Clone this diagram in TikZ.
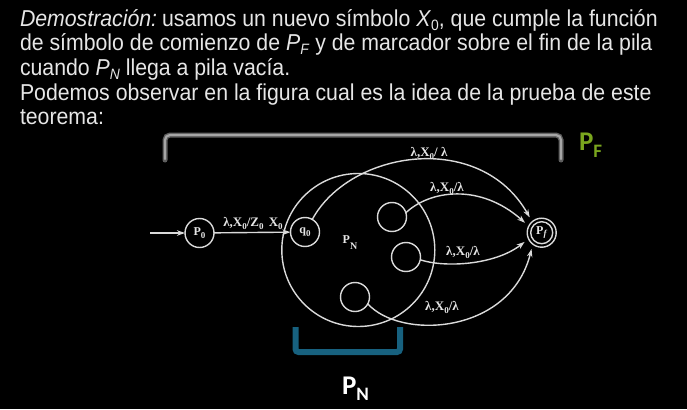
\documentclass[tikz,border=0pt]{standalone}
\usepackage{fontspec}
\setmainfont{Liberation Sans}[FakeStretch=0.925]
\newfontfamily\diafont{Liberation Serif}
\newfontfamily\calfont{Carlito}
\usetikzlibrary{arrows.meta}
\definecolor{txtgray}{HTML}{E6E6E6}
\definecolor{lgray}{HTML}{DADADA}
\definecolor{pfgreen}{HTML}{7AA61E}
\definecolor{pnblue}{HTML}{17617F}
\definecolor{brkdark}{HTML}{5E5E5E}
\definecolor{brklight}{HTML}{A6A6A6}
\newcommand\sbs[1]{\raisebox{-0.3ex}{\fontsize{15}{15}\selectfont #1}}
\newcommand\lsub[1]{\raisebox{-0.45ex}{\fontsize{9}{9}\selectfont #1}}
\begin{document}
\begin{tikzpicture}[x=1pt,y=-1pt,
  every node/.style={inner sep=0pt,outer sep=0pt},
  txt/.style={anchor=base west,text=txtgray,font=\fontsize{23}{24}\selectfont},
  state/.style={circle,draw=lgray,line width=1.4pt,minimum size=29pt},
  conn/.style={draw=lgray,line width=1.4pt},
  arr/.style={conn,-{Stealth[length=8pt,width=5.5pt]}},
  elabel/.style={text=txtgray,font=\diafont\bfseries\fontsize{13}{13}\selectfont},
  slabel/.style={text=txtgray,font=\diafont\bfseries\fontsize{12}{12}\selectfont},
  brk/.style={line width=#1,rounded corners=5pt,line cap=round},
  biglabel/.style={anchor=base west,font=\calfont\bfseries\fontsize{27}{27}\selectfont}
]
\fill[black] (0,0) rectangle (687,409);
% text
\node[txt] (t1) at (20,26.5) {{\itshape Demostración:}\hspace{-3pt} usamos un nuevo símbolo \textit{X}\sbs{0}, que cumple la función};
\node[txt] (t2) at (20,51) {de símbolo de comienzo de \textit{P}\sbs{\textit{F}} y de marcador sobre el fin de la pila};
\node[txt] (t3) at (20,75.5) {cuando \textit{P}\sbs{\textit{N}} llega a pila vacía.};
\node[txt] (t4) at (20,100) {Podemos observar en la figura cual es la idea de la prueba de este};
\node[txt] (t5) at (20,124.5) {teorema:};
% brackets
\draw[brk=5pt,brkdark] (165,160) -- (165,135) -- (561,135) -- (561,160);
\draw[brk=2.2pt,brklight] (165,159) -- (165,135) -- (561,135) -- (561,159);
\node[biglabel,text=pfgreen] (lpf) at (579,150) {P\raisebox{-7pt}{\fontsize{19}{19}\selectfont F}};
\draw[brk=6pt,pnblue,rounded corners=3pt,line cap=butt] (295.5,327) -- (295.5,352) -- (400,352) -- (400,327);
\node[biglabel,text=white] (lpn) at (342,394) {P\raisebox{-6pt}{\fontsize{19}{19}\selectfont N}};
% automaton
\node[circle,draw=lgray,line width=1.4pt,minimum size=153pt] (PN) at (358.3,250) {};
\node[slabel] (PNl) at (350,243) {P\raisebox{-1.1ex}{\fontsize{10}{10}\selectfont N}};
\node[state] (p0) at (199.5,233) {};
\node[slabel] at (p0) {P\lsub{0}};
\node[state] (q0) at (305,232) {};
\node[slabel] at (q0) {q\lsub{0}};
\node[state] (c1) at (392,217) {};
\node[state] (c2) at (406,257) {};
\node[state] (c3) at (355,297) {};
\node[state,minimum size=29pt] (pf) at (541.7,232.7) {};
\node[state,minimum size=22pt] (pfi) at (pf) {};
\node[slabel] at (pf) {P\lsub{\textit{f}}};
\coordinate (s) at (150,233);
\draw[arr] (s) -- (p0);
\draw[arr] (p0) -- (q0);
\node[elabel] (l0) at (253,223.5) {λ,X\lsub{0}/Z\lsub{0}\hspace{2pt} X\lsub{0}};
\draw[arr,shorten >=5pt] (q0.60) .. controls (350,150) and (480,130) .. (pf.131);
\node[elabel] (l1) at (429,153.5) {λ,X\lsub{0}/ λ};
\draw[arr,shorten >=5pt] (c1.17) .. controls (430,190) and (480,183) .. (pf.153);
\node[elabel] (l2) at (447,188.5) {λ,X\lsub{0}/λ};
\draw[arr,shorten >=5pt] (c2.-11) .. controls (445,268) and (495,265) .. (pf.205);
\node[elabel] (l3) at (463,252.5) {λ,X\lsub{0}/λ};
\draw[arr,shorten >=5pt] (c3.-28) .. controls (400,340) and (510,335) .. (pf.232);
\node[elabel] (l4) at (442,307.5) {λ,X\lsub{0}/λ};
\end{tikzpicture}
\end{document}
